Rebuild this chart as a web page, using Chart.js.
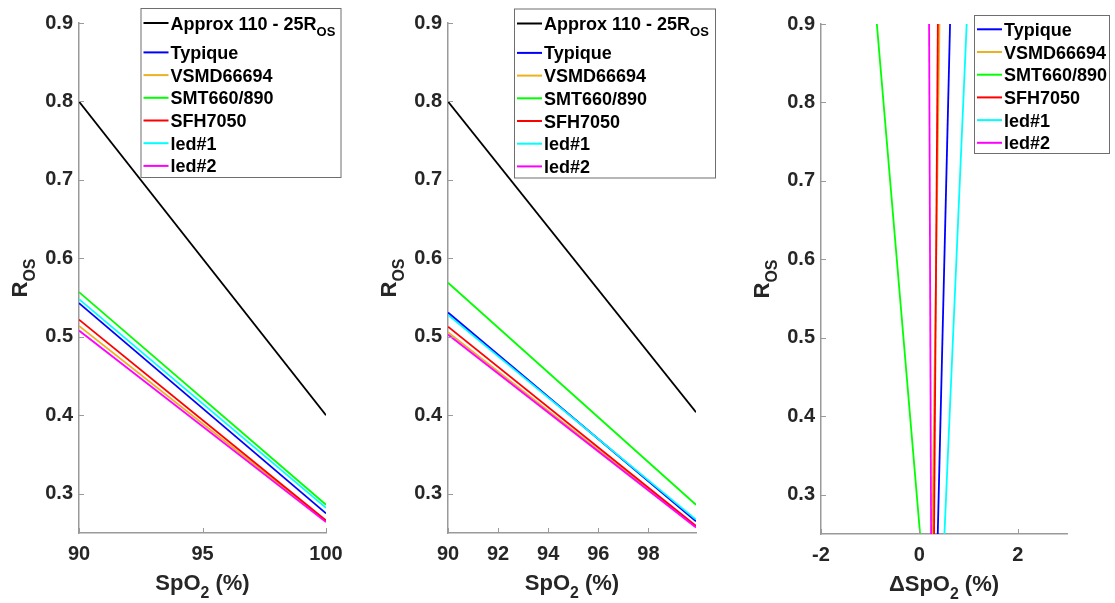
<!DOCTYPE html>
<html>
<head>
<meta charset="utf-8">
<script src="https://cdn.jsdelivr.net/npm/chart.js@4.4.1/dist/chart.umd.min.js"></script>
<style>
  html, body { margin: 0; padding: 0; background: #fff; }
  #wrap { position: relative; width: 1115px; height: 603px; }
  canvas { position: absolute; top: 0; }
</style>
</head>
<body>
<div id="wrap">
  <canvas id="c1" width="370" height="603" style="left:0px"></canvas>
  <canvas id="c2" width="370" height="603" style="left:370px"></canvas>
  <canvas id="c3" width="375" height="603" style="left:740px"></canvas>
</div>
<script>
// series names and colours (same order as the legend)
const names = ["Approx 110 - 25R_{OS}", "Typique", "VSMD66694", "SMT660/890", "SFH7050", "led#1", "led#2"];
const colors = ["#000000", "#0000ff", "#edb120", "#00ff00", "#ff0000", "#00ffff", "#ff00ff"];

// left panel: R_OS vs SpO2, 90..100
const spo2A = [90, 100];
const approxA = [0.8, 0.4];
const typiqueA = [0.543, 0.275];
const vsmdA = [0.514, 0.265];
const smtA = [0.557, 0.286];
const sfhA = [0.522, 0.266];
const led1A = [0.548, 0.282];
const led2A = [0.508, 0.264];

// middle panel: R_OS vs SpO2, 90..99.9
const spo2B = [90, 99.9];
const approxB = [0.8, 0.404];
const typiqueB = [0.531, 0.265];
const vsmdB = [0.506, 0.258];
const smtB = [0.569, 0.286];
const sfhB = [0.513, 0.259];
const led1B = [0.528, 0.267];
const led2B = [0.503, 0.257];

// right panel: R_OS vs delta SpO2
const rosC = [0.9, 0.25];
const typiqueC = [0.623, 0.373];
const vsmdC = [0.408, 0.264];
const smtC = [-0.865, 0.014];
const sfhC = [0.375, 0.298];
const led1C = [0.961, 0.509];
const led2C = [0.197, 0.238];

// tick values
const yTicks = { min: 0.25, max: 0.9, step: 0.1 };
const xTicksA = { min: 90, max: 100, step: 5 };
const xTicksB = { min: 90, max: 99.9, step: 2 };
const xTicksC = { min: -2, max: 3, step: 2 };

const FONT = '"Liberation Sans", Arial, sans-serif';
const axisColor = "#9a9a9a";
const textColor = "#262626";

// draws text where _{..} is a subscript
function drawRich(ctx, text, x, y, size, align) {
  const parts = [];
  text.split(/(_\{[^}]*\})/).forEach(s => {
    if (!s) return;
    if (s.startsWith("_{")) parts.push({ t: s.slice(2, -1), sub: true });
    else parts.push({ t: s, sub: false });
  });
  const subSize = size * 0.72;
  const font = s => "bold " + s + "px " + FONT;
  let w = 0;
  parts.forEach(p => {
    ctx.font = font(p.sub ? subSize : size);
    p.w = ctx.measureText(p.t).width;
    w += p.w;
  });
  let cx = align === "center" ? x - w / 2 : x;
  ctx.textAlign = "left";
  ctx.textBaseline = "alphabetic";
  parts.forEach(p => {
    ctx.font = font(p.sub ? subSize : size);
    ctx.fillText(p.t, cx, p.sub ? y + size * 0.35 : y);
    cx += p.w;
  });
}

// inward ticks, axis titles and the boxed legend
const decor = {
  id: "decor",
  afterDraw(chart, args, o) {
    const ctx = chart.ctx, a = chart.chartArea;
    const xs = chart.scales.x, ys = chart.scales.y;
    ctx.save();
    ctx.strokeStyle = axisColor;
    ctx.lineWidth = 1;
    xs.ticks.forEach(t => {
      const px = Math.round(xs.getPixelForValue(t.value)) + 0.5;
      ctx.beginPath(); ctx.moveTo(px, a.bottom); ctx.lineTo(px, a.bottom - 5); ctx.stroke();
    });
    ys.ticks.forEach(t => {
      const py = Math.round(ys.getPixelForValue(t.value)) + 0.5;
      ctx.beginPath(); ctx.moveTo(a.left, py); ctx.lineTo(a.left + 5, py); ctx.stroke();
    });

    ctx.fillStyle = textColor;
    drawRich(ctx, o.xTitle, (a.left + a.right) / 2, a.bottom + 57, 22, "center");
    ctx.save();
    ctx.translate(a.left - 52, (a.top + a.bottom) / 2);
    ctx.rotate(-Math.PI / 2);
    drawRich(ctx, o.yTitle, 0, 0, 22, "center");
    ctx.restore();

    const L = o.legend;
    ctx.fillStyle = "#fff";
    ctx.fillRect(L.left, L.top, L.width, L.height);
    ctx.strokeStyle = "#6e6e6e";
    ctx.lineWidth = 1;
    ctx.strokeRect(L.left + 0.5, L.top + 0.5, L.width, L.height);
    let y = L.top + L.first;
    chart.data.datasets.forEach(ds => {
      ctx.strokeStyle = ds.borderColor;
      ctx.lineWidth = 2;
      ctx.beginPath(); ctx.moveTo(L.left + 3, y); ctx.lineTo(L.left + 28, y); ctx.stroke();
      ctx.fillStyle = "#000";
      drawRich(ctx, ds.label, L.left + 30, y + 6.5, 18, "left");
      y += ds.label.includes("_{") ? L.gap + 6.7 : L.gap;
    });
    ctx.restore();
  }
};

function makeSets(xs, ys, seriesIdx) {
  return ys.map((vals, k) => {
    const i = seriesIdx[k];
    return {
      label: names[i],
      data: vals.map((v, j) => xs ? { x: xs[j], y: v } : { x: v, y: rosC[j] }),
      borderColor: colors[i],
      backgroundColor: colors[i],
      borderWidth: 1.8,
      pointRadius: 0,
      showLine: true,
      order: names.length - i
    };
  });
}

function makeChart(id, sets, xt, area, xTitle, legend) {
  const canvas = document.getElementById(id);
  const H = canvas.height, W = canvas.width;
  return new Chart(canvas, {
    type: "scatter",
    data: { datasets: sets },
    options: {
      responsive: false,
      animation: false,
      devicePixelRatio: 1,
      layout: { padding: { left: 0, top: area.top, right: W - area.right, bottom: 0 } },
      plugins: {
        legend: { display: false },
        tooltip: { enabled: false },
        decor: { xTitle: xTitle, yTitle: "R_{OS}", legend: legend }
      },
      scales: {
        x: {
          type: "linear",
          min: xt.min, max: xt.max,
          grid: { display: false, drawTicks: false },
          border: { display: true, color: axisColor, width: 1.5 },
          ticks: {
            stepSize: xt.step, includeBounds: false, autoSkip: false, maxRotation: 0,
            padding: 9, color: textColor,
            font: { family: FONT, size: 20, weight: "bold" },
            callback: v => String(v)
          },
          afterFit: s => { s.height = H - area.bottom; }
        },
        y: {
          type: "linear",
          min: yTicks.min, max: yTicks.max,
          grid: { display: false, drawTicks: false },
          border: { display: true, color: axisColor, width: 1.5 },
          ticks: {
            stepSize: yTicks.step, includeBounds: false, autoSkip: false,
            padding: 6, color: textColor,
            font: { family: FONT, size: 20, weight: "bold" },
            callback: v => v.toFixed(1)
          },
          afterFit: s => { s.width = area.left; }
        }
      }
    },
    plugins: [decor]
  });
}

makeChart("c1",
  makeSets(spo2A, [approxA, typiqueA, vsmdA, smtA, sfhA, led1A, led2A], [0, 1, 2, 3, 4, 5, 6]),
  xTicksA, { left: 79, right: 326, top: 23, bottom: 533 }, "SpO_{2} (%)",
  { left: 140.5, top: 8, width: 200, height: 169, first: 15, gap: 22.7 });

makeChart("c2",
  makeSets(spo2B, [approxB, typiqueB, vsmdB, smtB, sfhB, led1B, led2B], [0, 1, 2, 3, 4, 5, 6]),
  xTicksB, { left: 78, right: 326, top: 23, bottom: 533 }, "SpO_{2} (%)",
  { left: 144, top: 8.5, width: 201, height: 169, first: 15, gap: 22.7 });

makeChart("c3",
  makeSets(null, [typiqueC, vsmdC, smtC, sfhC, led1C, led2C], [1, 2, 3, 4, 5, 6]),
  xTicksC, { left: 81, right: 327, top: 24, bottom: 534 }, "ΔSpO_{2} (%)",
  { left: 234, top: 15, width: 135, height: 138, first: 14.3, gap: 22.7 });
</script>
</body>
</html>
